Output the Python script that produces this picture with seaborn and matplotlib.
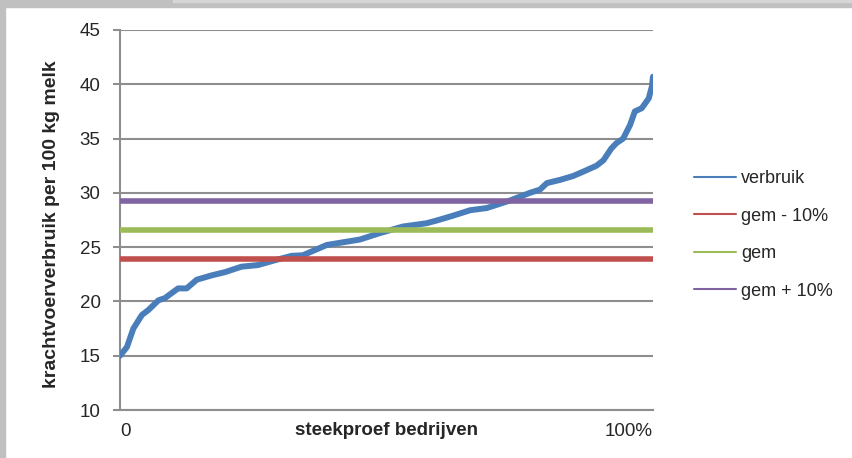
import pandas as pd
import matplotlib
matplotlib.use("Agg")
import matplotlib.pyplot as plt
from matplotlib.lines import Line2D
from matplotlib.patches import Rectangle
import seaborn as sns

# ===== DATA =====
# positie in de gesorteerde steekproef (%) en verbruik (kg krachtvoer per 100 kg melk)
pct = [0, 1.3, 2.5, 4.1, 5.3, 7.2, 8.4, 10.9, 12.5, 14.4, 17.2, 19.7, 22.8, 25.9,
       29.1, 32.2, 34.3, 38.8, 42.5, 45.0, 48.8, 53.1, 57.5, 59.4, 62.5, 65.7,
       68.8, 73.2, 76.9, 78.8, 80.1, 82.6, 85.0, 86.9, 89.4, 90.7, 92.2, 93.2,
       94.4, 95.7, 96.6, 97.9, 99.2, 99.8, 100]
verbruik = [15.0, 15.8, 17.5, 18.75, 19.2, 20.1, 20.3, 21.2, 21.2, 22.0, 22.4, 22.7,
            23.2, 23.35, 23.8, 24.2, 24.25, 25.2, 25.5, 25.7, 26.3, 26.9, 27.2, 27.45,
            27.9, 28.4, 28.6, 29.3, 30.0, 30.3, 30.9, 31.2, 31.55, 31.95, 32.5, 33.0,
            34.1, 34.6, 35.0, 36.25, 37.5, 37.8, 38.7, 39.8, 40.7]

ref_labels = ["gem - 10%", "gem", "gem + 10%"]
ref_levels = [23.94, 26.6, 29.26]

y_ticks = [10, 15, 20, 25, 30, 35, 40, 45]
x_ticks = [0, 100]
x_ticklabels = ["0", "100%"]

blue = "#4a7ebb"
ref_colors = ["#c0504d", "#9bbb59", "#8064a2"]
grid_gray = "#8e8e8e"

# ===== STIJL =====
sns.set_style("white")
plt.rcParams["font.family"] = ["Liberation Sans", "DejaVu Sans"]

fig = plt.figure(figsize=(8.53, 4.58), dpi=100)
ax = fig.add_axes([0.1407, 0.1048, 0.6248, 0.8297])

# ===== PLOT =====
df_verbruik = pd.DataFrame({"pct": pct, "waarde": verbruik})
sns.lineplot(data=df_verbruik, x="pct", y="waarde", color=blue, linewidth=4.3,
             solid_capstyle="round", solid_joinstyle="round", ax=ax, zorder=3)

rows = []
for lab, lev in zip(ref_labels, ref_levels):
    rows.append({"pct": x_ticks[0], "waarde": lev, "reeks": lab})
    rows.append({"pct": x_ticks[1], "waarde": lev, "reeks": lab})
df_ref = pd.DataFrame(rows)
sns.lineplot(data=df_ref, x="pct", y="waarde", hue="reeks", hue_order=ref_labels,
             palette=ref_colors, linewidth=4, solid_capstyle="round",
             legend=False, ax=ax, zorder=4)

# ===== AS-OPMAAK =====
ax.set_xlim(0, 100)
ax.set_ylim(10, 45)
ax.set_yticks(y_ticks)
ax.set_xticks(x_ticks)
ax.set_xticklabels(x_ticklabels)
xl = ax.get_xticklabels()
xl[0].set_ha("left")
xl[1].set_ha("right")

ax.yaxis.grid(True, color=grid_gray, linewidth=1.5)
ax.xaxis.grid(False)
for side in ["top", "right"]:
    ax.spines[side].set_visible(False)
for side in ["left", "bottom"]:
    ax.spines[side].set_color(grid_gray)
    ax.spines[side].set_linewidth(1.5)
ax.set_axisbelow(True)

ax.tick_params(axis="y", length=5, width=1.5, color=grid_gray, pad=9,
               labelsize=13.5, left=True)
ax.tick_params(axis="x", length=0, pad=9, labelsize=13.5)

ax.set_ylabel("krachtvoerverbruik per 100 kg melk", fontsize=14, fontweight="bold")
ax.yaxis.set_label_coords(-0.113, 0.49)
ax.set_xlabel("steekproef bedrijven", fontsize=13.5, fontweight="bold")
ax.xaxis.label.set_va("center")
ax.xaxis.set_label_coords(0.5, -0.053)

# ===== LEGENDA =====
handles = [Line2D([], [], color=blue, linewidth=1.5)]
handles += [Line2D([], [], color=c, linewidth=1.5) for c in ref_colors]
labels = ["verbruik"] + ref_labels
fig.legend(handles, labels, loc="center left", bbox_to_anchor=(0.795, 0.487),
           frameon=False, fontsize=13, handlelength=2.3, handletextpad=0.3,
           labelspacing=1.13)

# grijze rand van de schermafdruk
fig.add_artist(Rectangle((0, 1 - 7 / 458), 1, 7 / 458, transform=fig.transFigure,
                         color="#c0c0c0", zorder=0))
fig.add_artist(Rectangle((173 / 853, 1 - 2 / 458), 1, 2 / 458, transform=fig.transFigure,
                         color="#d6d6d6", zorder=0))
fig.add_artist(Rectangle((0, 0), 5 / 853, 1, transform=fig.transFigure,
                         color="#c0c0c0", zorder=0))

fig.savefig("out.png", dpi=100)
plt.close(fig)
